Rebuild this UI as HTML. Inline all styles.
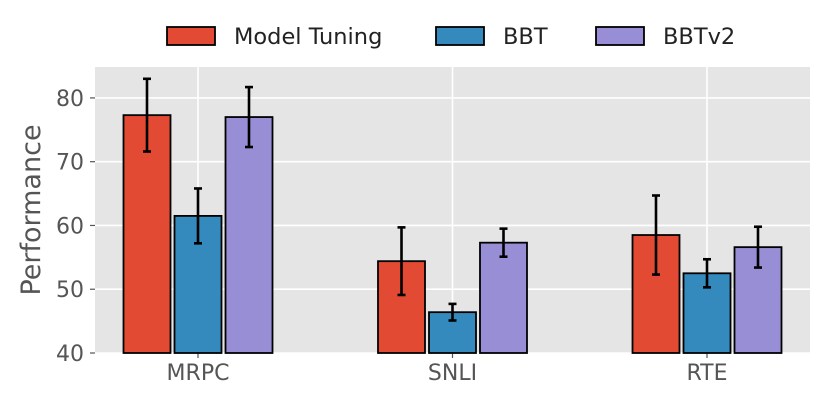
<!DOCTYPE html>
<html><head><meta charset="utf-8"><style>
html,body{margin:0;padding:0;background:#fff;}
svg{display:block;font-family:"DejaVu Sans","Liberation Sans",sans-serif;}
</style></head><body>
<svg id="chart" width="829" height="402"></svg>
<script>
const categories=["MRPC","SNLI","RTE"];
const seriesNames=["Model Tuning","BBT","BBTv2"];
const mtValues=[77.3,54.4,58.5];
const mtErrors=[5.7,5.3,6.2];
const bbtValues=[61.5,46.4,52.5];
const bbtErrors=[4.3,1.3,2.2];
const bbtv2Values=[77.0,57.3,56.6];
const bbtv2Errors=[4.7,2.2,3.2];
const yTicks=[40,50,60,70,80];

const NS="http://www.w3.org/2000/svg";
const svg=document.getElementById('chart');
const colors=["#e24a33","#348abd","#988ed5"];
const px0=95,px1=810,py0=67,py1=353;
const yMin=40,yMax=84.85;
function y(v){return py1-(v-yMin)/(yMax-yMin)*(py1-py0);}
const groupStart=198,groupStep=254.5;
function xc(i){return groupStart+i*groupStep;}
const bw=47,gap=4;
function mk(tag,attrs,parent){const e=document.createElementNS(NS,tag);for(const k in attrs)e.setAttribute(k,attrs[k]);(parent||svg).appendChild(e);return e;}

const bg=mk('rect',{x:px0,y:py0,width:px1-px0,height:py1-py0,fill:'#e5e5e5'});


yTicks.forEach(t=>{
  const g=mk('line',{x1:px0,x2:px1,y1:y(t),y2:y(t),stroke:'#fff','stroke-width':1.6});
  
  
  const tk=mk('line',{x1:px0-5,x2:px0,y1:y(t),y2:y(t),stroke:'#555','stroke-width':1.2});
  
  
  const tx=mk('text',{x:px0-11,y:y(t)+8,'text-anchor':'end','font-size':22,fill:'#555'});
  tx.textContent=t;
  
  
});
categories.forEach((c,i)=>{
  const g=mk('line',{x1:xc(i),x2:xc(i),y1:py0,y2:py1,stroke:'#fff','stroke-width':1.6});
  
  
  const tk=mk('line',{x1:xc(i),x2:xc(i),y1:py1,y2:py1+5,stroke:'#555','stroke-width':1.2});
  
  
  const tx=mk('text',{x:xc(i),y:380,'text-anchor':'middle','font-size':22,fill:'#555'});
  tx.textContent=c;
  
  
});
const allVals=[mtValues,bbtValues,bbtv2Values];
const allErr=[mtErrors,bbtErrors,bbtv2Errors];
allVals.forEach((vals,s)=>{
  vals.forEach((v,i)=>{
    const cx=xc(i)+(s-1)*(bw+gap);
    const r=mk('rect',{x:cx-bw/2,y:y(v),width:bw,height:py1-y(v),fill:colors[s],stroke:'#000','stroke-width':1.8});
    
    
    const e=allErr[s][i];
    const eg=mk('g',{stroke:'#000','stroke-width':2.6});
    
    
    mk('line',{x1:cx,x2:cx,y1:y(v+e),y2:y(v-e)},eg);
    mk('line',{x1:cx-4,x2:cx+4,y1:y(v+e),y2:y(v+e)},eg);
    mk('line',{x1:cx-4,x2:cx+4,y1:y(v-e),y2:y(v-e)},eg);
  });
});
const yt=mk('text',{x:0,y:0,'text-anchor':'middle','font-size':27,fill:'#555',transform:'translate(40,'+((py0+py1)/2)+') rotate(-90)'});
yt.textContent='Performance';


const legPatchX=[167,436,596];
const legTextX=[234,503,663];
seriesNames.forEach((n,s)=>{
  const g=mk('g',{});
  
  
  mk('rect',{x:legPatchX[s],y:27,width:48,height:18,fill:colors[s],stroke:'#000','stroke-width':1.8},g);
  const t=mk('text',{x:legTextX[s],y:44,'font-size':22.5,fill:'#222'},g);
  t.textContent=n;
});
</script>
</body></html>
